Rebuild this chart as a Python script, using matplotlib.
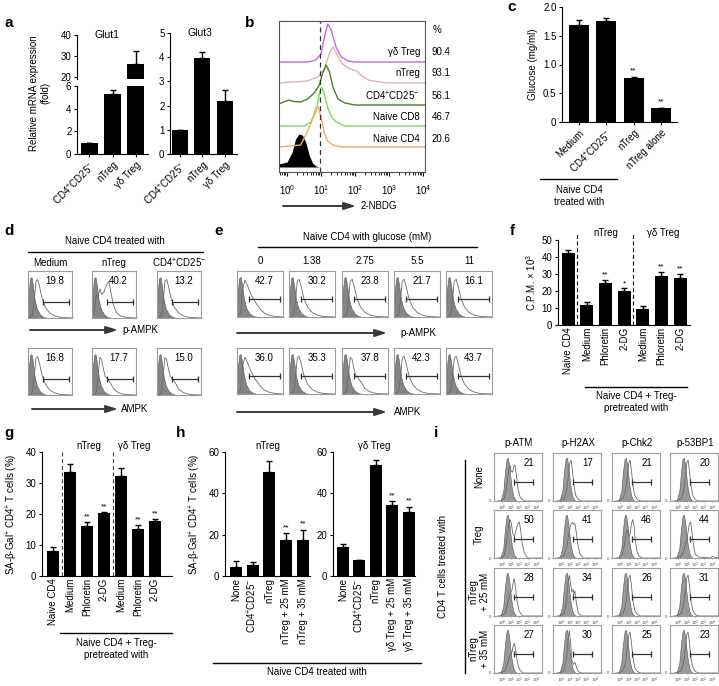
import numpy as np
import matplotlib
matplotlib.use('Agg')
import matplotlib.pyplot as plt
from matplotlib.lines import Line2D
from matplotlib.patches import FancyArrowPatch

plt.rcParams['font.family'] = ['Liberation Sans', 'DejaVu Sans']
plt.rcParams['font.size'] = 7
plt.rcParams['axes.linewidth'] = 0.8
plt.rcParams['mathtext.default'] = 'regular'

# ---------------- data ----------------
# a: Glut1 / Glut3 mRNA
glut_cats = ['CD4$^{+}$CD25$^{-}$', 'nTreg', 'γδ Treg']
glut1_mean = [1.0, 5.3, 26.0]
glut1_top = [1.0, 5.65, 32.3]
glut3_mean = [1.0, 3.95, 2.2]
glut3_top = [1.0, 4.2, 2.65]

# b: 2-NBDG histograms (log10 intensity, height in px above baseline)
nbdg_names = ['γδ Treg', 'nTreg', 'CD4$^{+}$CD25$^{-}$', 'Naive CD8', 'Naive CD4']
nbdg_pct = ['90.4', '93.1', '56.1', '46.7', '20.6']
nbdg_colors = ['#c964e2', '#dbb6b0', '#4e7d2e', '#72e05a', '#f7a862']
nbdg_x = [
    [-0.24, 0.6, 0.85, 1.0, 1.1, 1.2, 1.3, 1.45, 1.6, 1.8, 2.0, 4.06],
    [-0.24, 0.6, 0.9, 1.1, 1.25, 1.35, 1.45, 1.6, 1.8, 1.95, 2.05, 2.2, 2.4, 2.7, 3.0, 4.06],
    [-0.24, -0.1, 0.05, 0.2, 0.4, 0.6, 0.8, 0.95, 1.05, 1.15, 1.25, 1.35, 1.5, 1.7, 2.0, 4.06],
    [-0.24, 0.5, 0.7, 0.85, 0.95, 1.02, 1.1, 1.2, 1.3, 1.45, 1.7, 4.06],
    [-0.24, 0.4, 0.55, 0.65, 0.75, 0.85, 0.92, 1.0, 1.1, 1.2, 1.35, 1.6, 4.06],
]
nbdg_y = [
    [0, 0, 2, 8, 25, 38, 32, 14, 5, 1, 0, 0],
    [0, 2, 6, 14, 30, 36, 30, 20, 15, 13, 12, 7, 3, 1, 0, 0],
    [1, 3, 5, 3.5, 3, 6, 12, 20, 32, 40, 33, 18, 6, 2, 0, 0],
    [0, 0, 4, 14, 32, 39, 32, 18, 10, 4, 0, 0],
    [0, 2, 12, 19, 28, 39, 40, 30, 14, 6, 2, 0, 0],
]
iso_b_x = [-0.24, 0.0, 0.15, 0.25, 0.35, 0.45, 0.55, 0.65, 0.75, 0.85, 0.95]
iso_b_y = [3, 5, 15, 28, 33, 32, 25, 12, 4, 1, 0]

# c: glucose
c_cats = ['Medium', 'CD4$^{+}$CD25$^{-}$', 'nTreg', 'nTreg alone']
c_mean = [1.69, 1.75, 0.76, 0.25]
c_top = [1.78, 1.81, 0.78, 0.25]
c_stars = ['', '', '**', '**']

# d / e: p-AMPK and AMPK
d_cols = ['Medium', 'nTreg', 'CD4$^{+}$CD25$^{-}$']
d_pampk = ['19.8', '40.2', '13.2']
d_ampk = ['16.8', '17.7', '15.0']
d_shape_p = ['std', 'double', 'std']
d_shape_a = ['std', 'shoulder', 'shoulder']
e_cols = ['0', '1.38', '2.75', '5.5', '11']
e_pampk = ['42.7', '30.2', '23.8', '21.7', '16.1']
e_ampk = ['36.0', '35.3', '37.8', '42.3', '43.7']
e_shape_p = ['broad', 'std', 'std', 'std', 'std']
e_shape_a = ['broad', 'std', 'shoulder', 'std', 'std']

iso_de = ([0, 0.02, 0.05, 0.08, 0.11, 0.15, 0.2, 0.27, 0.35, 0.45],
          [0.05, 0.6, 0.85, 0.87, 0.7, 0.4, 0.2, 0.08, 0.02, 0])
de_shapes = {
    'std': ([0, 0.1, 0.14, 0.18, 0.22, 0.26, 0.32, 0.4, 0.5, 0.62, 0.75, 1],
            [0, 0.05, 0.35, 0.78, 0.82, 0.68, 0.42, 0.22, 0.1, 0.04, 0.01, 0]),
    'broad': ([0, 0.08, 0.12, 0.17, 0.22, 0.3, 0.4, 0.5, 0.6, 0.72, 0.85, 1],
              [0, 0.1, 0.6, 0.8, 0.7, 0.5, 0.32, 0.18, 0.08, 0.03, 0.01, 0]),
    'double': ([0, 0.06, 0.1, 0.14, 0.18, 0.22, 0.27, 0.32, 0.38, 0.42, 0.48, 0.55, 0.65, 0.8, 1],
               [0, 0.2, 0.5, 0.45, 0.62, 0.5, 0.55, 0.68, 0.78, 0.6, 0.3, 0.12, 0.04, 0.01, 0]),
    'shoulder': ([0, 0.1, 0.14, 0.18, 0.22, 0.26, 0.3, 0.36, 0.42, 0.5, 0.6, 0.75, 1],
                 [0, 0.05, 0.4, 0.8, 0.75, 0.55, 0.4, 0.33, 0.25, 0.12, 0.05, 0.01, 0]),
}

# f: proliferation
f_cats = ['Naive CD4', 'Medium', 'Phloretin', '2-DG', 'Medium', 'Phloretin', '2-DG']
f_mean = [42.3, 11.8, 24.7, 20.0, 9.4, 28.8, 27.7]
f_top = [44.2, 13.5, 26.5, 21.6, 11.3, 31.3, 30.0]
f_stars = ['', '', '**', '*', '', '**', '**']

# g: SA-beta-Gal, inhibitors
g_cats = ['Naive CD4', 'Medium', 'Phloretin', '2-DG', 'Medium', 'Phloretin', '2-DG']
g_mean = [8.0, 33.5, 16.2, 20.2, 32.3, 15.2, 17.7]
g_top = [9.2, 36.2, 17.3, 20.7, 34.7, 16.5, 18.3]
g_stars = ['', '', '**', '**', '', '**', '**']

# h: SA-beta-Gal, glucose
h1_cats = ['None', 'CD4$^{+}$CD25$^{-}$', 'nTreg', 'nTreg + 25 mM', 'nTreg + 35 mM']
h1_mean = [4.5, 5.3, 50.5, 17.3, 17.3]
h1_top = [7.3, 7.0, 55.5, 20.7, 22.3]
h2_cats = ['None', 'CD4$^{+}$CD25$^{-}$', 'nTreg', 'γδ Treg + 25 mM', 'γδ Treg + 35 mM']
h2_mean = [14.2, 7.6, 53.5, 34.2, 31.2]
h2_top = [15.7, 7.9, 56.0, 36.3, 33.5]
h_stars = ['', '', '', '**', '**']

# i: DNA damage markers
i_cols = ['p-ATM', 'p-H2AX', 'p-Chk2', 'p-53BP1']
i_rows = ['None', 'Treg', 'nTreg\n+ 25 mM', 'nTreg\n+ 35 mM']
i_vals = [['21', '17', '21', '20'],
          ['50', '41', '46', '44'],
          ['28', '34', '26', '31'],
          ['27', '30', '25', '23']]
i_shape = [['atm_none', 'single', 'single', 'single'],
           ['atm_treg', 'h2ax_treg', 'chk2_treg', 'bp_treg'],
           ['atm_25', 'h2ax_25', 'single', 'single'],
           ['atm_35', 'h2ax_35', 'single', 'single']]
iso_i = ([-1, -0.2, 0.1, 0.3, 0.5, 0.65, 0.8, 0.95, 1.1, 1.3, 1.5, 1.7],
         [0, 0.02, 0.2, 0.6, 0.88, 0.9, 0.75, 0.5, 0.28, 0.1, 0.03, 0])
i_shapes = {
    'single': ([-0.2, 0.3, 0.6, 0.85, 1.0, 1.15, 1.3, 1.5, 1.7, 2.0, 2.4, 4.7],
               [0, 0.05, 0.2, 0.55, 0.8, 0.85, 0.65, 0.3, 0.12, 0.03, 0, 0]),
    'atm_none': ([-0.2, 0.2, 0.5, 0.75, 0.9, 1.05, 1.2, 1.35, 1.5, 1.65, 1.85, 2.1, 2.4, 2.8, 4.7],
                 [0, 0.05, 0.3, 0.65, 0.75, 0.62, 0.6, 0.72, 0.75, 0.55, 0.25, 0.08, 0.02, 0, 0]),
    'atm_treg': ([-0.2, 0.2, 0.5, 0.75, 0.9, 1.05, 1.25, 1.45, 1.65, 1.85, 2.0, 2.15, 2.35, 2.6, 3.0, 4.7],
                 [0, 0.05, 0.35, 0.7, 0.8, 0.72, 0.5, 0.45, 0.6, 0.72, 0.75, 0.6, 0.3, 0.1, 0, 0]),
    'atm_25': ([-0.2, 0.3, 0.6, 0.85, 1.0, 1.15, 1.3, 1.4, 1.55, 1.75, 2.0, 2.4, 4.7],
               [0, 0.05, 0.25, 0.45, 0.5, 0.55, 0.72, 0.78, 0.6, 0.3, 0.1, 0, 0]),
    'atm_35': ([-0.2, 0.3, 0.6, 0.85, 1.0, 1.15, 1.3, 1.42, 1.55, 1.75, 2.0, 2.4, 4.7],
               [0, 0.05, 0.2, 0.35, 0.38, 0.45, 0.58, 0.62, 0.5, 0.25, 0.08, 0, 0]),
    'h2ax_treg': ([-0.2, 0.3, 0.6, 0.85, 1.0, 1.15, 1.3, 1.45, 1.6, 1.75, 1.95, 2.2, 2.6, 4.7],
                  [0, 0.05, 0.2, 0.45, 0.62, 0.7, 0.74, 0.7, 0.72, 0.55, 0.28, 0.08, 0, 0]),
    'h2ax_25': ([-0.2, 0.3, 0.6, 0.8, 0.95, 1.1, 1.25, 1.4, 1.5, 1.6, 1.75, 2.0, 2.4, 4.7],
                [0, 0.05, 0.3, 0.7, 0.85, 0.65, 0.5, 0.55, 0.45, 0.52, 0.3, 0.06, 0, 0]),
    'h2ax_35': ([-0.2, 0.3, 0.6, 0.8, 0.95, 1.1, 1.25, 1.45, 1.6, 1.75, 2.0, 2.4, 4.7],
                [0, 0.05, 0.3, 0.72, 0.88, 0.62, 0.25, 0.18, 0.22, 0.14, 0.03, 0, 0]),
    'chk2_treg': ([-0.2, 0.2, 0.5, 0.7, 0.85, 1.0, 1.15, 1.3, 1.45, 1.6, 1.75, 1.95, 2.2, 2.6, 4.7],
                  [0, 0.05, 0.3, 0.55, 0.58, 0.45, 0.5, 0.7, 0.8, 0.7, 0.4, 0.15, 0.04, 0, 0]),
    'bp_treg': ([-0.2, 0.3, 0.6, 0.85, 1.0, 1.15, 1.3, 1.45, 1.6, 1.8, 2.0, 2.4, 3.8, 4.0, 4.7],
                [0, 0.03, 0.12, 0.3, 0.38, 0.55, 0.72, 0.75, 0.55, 0.25, 0.08, 0.02, 0, 0.03, 0]),
}

# ---------------- figure ----------------
W, H = 719, 686
fig = plt.figure(figsize=(W / 100, H / 100), dpi=100)


def axpx(l, t, r, b):
    return fig.add_axes([l / W, 1 - b / H, (r - l) / W, (b - t) / H])


def txt(x, y, s, **kw):
    kw.setdefault('ha', 'center')
    kw.setdefault('va', 'center')
    fig.text(x / W, 1 - y / H, s, **kw)


def hline(x0, x1, y, lw=1.0, color='black'):
    fig.add_artist(Line2D([x0 / W, x1 / W], [1 - y / H, 1 - y / H], lw=lw, color=color,
                          transform=fig.transFigure))


def vline(x, y0, y1, lw=1.0, color='black'):
    fig.add_artist(Line2D([x / W, x / W], [1 - y0 / H, 1 - y1 / H], lw=lw, color=color,
                          transform=fig.transFigure))


def arrow(x0, x1, y, label, lx):
    fig.add_artist(FancyArrowPatch((x0 / W, 1 - y / H), (x1 / W, 1 - y / H),
                                   transform=fig.transFigure, mutation_scale=10,
                                   arrowstyle='-|>,head_length=0.7,head_width=0.22',
                                   lw=1.4, color='#3a3a3a', shrinkA=0, shrinkB=0))
    txt(lx, y, label, ha='left')


def style(ax, xlen=2.5):
    for s in ['top', 'right']:
        ax.spines[s].set_visible(False)
    ax.tick_params(direction='out', length=2.5, width=0.8, labelsize=7, pad=1.5)
    ax.tick_params(axis='x', length=xlen)


def draw_bars(ax, vals, tops, width, stars=None, pad=0.0, fs=6):
    x = np.arange(len(vals))
    vals = np.array(vals)
    up = np.array(tops) - vals
    ax.bar(x, vals, width, color='black', zorder=2)
    ax.errorbar(x, vals, yerr=[np.zeros_like(up), up], fmt='none', ecolor='black',
                elinewidth=1.0, capsize=2.5, capthick=1.0, zorder=3)
    if stars:
        for xi, t, s in zip(x, tops, stars):
            if s:
                ax.text(xi, t + pad, s, ha='center', va='bottom', fontsize=fs)


def panel(x, y, s):
    txt(x, y, s, fontsize=11, fontweight='bold')


# ---------------- a ----------------
panel(9, 23, 'a')
a_top = axpx(77, 35, 148, 79)
a_bot = axpx(77, 86, 148, 154)
for ax in (a_top, a_bot):
    style(ax)
    draw_bars(ax, glut1_mean, glut1_top, 0.72)
    ax.set_xlim(-0.54, 2.54)
a_top.set_ylim(19, 40)
a_top.set_yticks([20, 30, 40])
a_top.spines['bottom'].set_visible(False)
a_top.set_xticks([])
a_bot.set_ylim(0, 6)
a_bot.set_yticks([0, 2, 4, 6])
a_bot.set_xticks(range(3))
a_bot.set_xticklabels(glut_cats, rotation=45, ha='right', rotation_mode='anchor')
txt(107, 35, 'Glut1', fontsize=7.5)

a3 = axpx(170, 33, 237, 154)
style(a3)
draw_bars(a3, glut3_mean, glut3_top, 0.71)
a3.set_xlim(-0.44, 2.53)
a3.set_ylim(0, 5)
a3.set_xticks(range(3))
a3.set_xticklabels(glut_cats, rotation=45, ha='right', rotation_mode='anchor')
txt(200, 33, 'Glut3', fontsize=7.5)
txt(40, 93, 'Relative mRNA expression\n(fold)', rotation=90, linespacing=1.2)

# ---------------- b ----------------
panel(250, 23, 'b')
ab = axpx(279, 21, 425, 172)
base_px = [110, 89, 67, 46, 25]
for xs, ys, col, b0 in zip(nbdg_x, nbdg_y, nbdg_colors, base_px):
    ab.plot(10 ** np.array(xs), np.array(ys) + b0, color=col, lw=1.0)
ab.fill_between(10 ** np.array(iso_b_x), 5, np.array(iso_b_y) + 5, color='black', lw=0)
ab.set_xscale('log')
ab.set_xlim(0.58, 1.15e4)
ab.set_ylim(0, 151)
ab.axvline(9.4, color='#333', lw=0.9, ls=(0, (4, 3)))
ab.set_yticks([])
ab.set_xticks([1, 10, 100, 1000, 10000])
ab.set_xticklabels(['10$^{0}$', '10$^{1}$', '10$^{2}$', '10$^{3}$', '10$^{4}$'])
ab.tick_params(axis='x', which='major', direction='out', length=3, labelsize=7, pad=5)
ab.tick_params(axis='x', which='minor', direction='out', length=1.8)
for s in ab.spines.values():
    s.set_color('#555')
for name, pct, y in zip(nbdg_names, nbdg_pct, [52, 73, 96, 117, 139]):
    txt(420, y, name, ha='right')
    txt(432, y, pct, ha='left')
txt(433, 30, '%', ha='left')
arrow(283, 356, 206, '2-NBDG', 361)

# ---------------- c ----------------
panel(512, 7, 'c')
ac = axpx(562, 7, 677, 122)
style(ac)
draw_bars(ac, c_mean, c_top, 0.73, c_stars, pad=0.04)
ac.set_xlim(-0.62, 3.59)
ac.set_ylim(0, 2.0)
ac.set_yticks([0, 0.5, 1.0, 1.5, 2.0])
ac.set_yticklabels(['0', '0.5', '1.0', '1.5', '2.0'])
ac.set_xticks(range(4))
ac.set_xticklabels(c_cats, rotation=45, ha='right', rotation_mode='anchor')
ac.set_ylabel('Glucose (mg/ml)', labelpad=4)
hline(540, 617, 179)
txt(579, 196, 'Naive CD4\ntreated with', linespacing=1.3)


# ---------------- d / e ----------------
def flow_box(l, t, w, h, iso, curve, value, gate, xlim, num_x, fs=7, iso_col='#858585'):
    ax = axpx(l, t, l + w, t + h)
    ax.fill_between(iso[0], 0, iso[1], facecolor=iso_col, edgecolor='#555', lw=0.4)
    ax.plot(curve[0], curve[1], color='#6a6a6a', lw=0.6)
    ax.plot(gate[:2], [gate[2]] * 2, color='#333', lw=0.9, marker='|', ms=4, mew=0.9)
    ax.text(num_x, 0.79, value, ha='center', va='center', fontsize=fs)
    ax.set_xlim(xlim)
    ax.set_ylim(0, 1)
    for s in ax.spines.values():
        s.set_color('#9c9c9c')
        s.set_linewidth(0.8)
    ax.set_xticks([])
    ax.set_yticks([])
    return ax


panel(9, 231, 'd')
txt(115, 241, 'Naive CD4 treated with')
hline(28, 203, 252)
d_left = [28, 92, 157]
for j, l in enumerate(d_left):
    txt(l + 22, 263, d_cols[j])
    flow_box(l, 271, 44, 47, iso_de, de_shapes[d_shape_p[j]], d_pampk[j],
             (0.33, 0.94, 0.33), (0, 1), 0.6)
    flow_box(l, 348, 44, 47, iso_de, de_shapes[d_shape_a[j]], d_ampk[j],
             (0.33, 0.94, 0.33), (0, 1), 0.6)
arrow(30, 118, 330, 'p-AMPK', 122)
arrow(32, 118, 409, 'AMPK', 121)

panel(219, 231, 'e')
txt(367, 237, 'Naive CD4 with glucose (mM)')
hline(258, 477, 247)
e_left = [237, 289, 342, 394, 446]
for j, l in enumerate(e_left):
    txt(l + 23, 261, e_cols[j])
    flow_box(l, 271, 46, 46, iso_de, de_shapes[e_shape_p[j]], e_pampk[j],
             (0.25, 0.93, 0.4), (0, 1), 0.6)
    flow_box(l, 348, 46, 46, iso_de, de_shapes[e_shape_a[j]], e_ampk[j],
             (0.25, 0.93, 0.4), (0, 1), 0.6)
arrow(237, 387, 333, 'p-AMPK', 400)
arrow(237, 387, 412, 'AMPK', 394)

# ---------------- f ----------------
panel(512, 231, 'f')
af = axpx(558, 240, 690, 325)
style(af, xlen=0)
draw_bars(af, f_mean, f_top, 0.7, f_stars, pad=0.8)
af.set_xlim(-0.54, 6.53)
af.set_ylim(0, 50)
af.set_yticks([0, 10, 20, 30, 40, 50])
af.set_xticks(range(7))
af.set_xticklabels(f_cats, rotation=90)
af.set_ylabel('C.P.M. × 10$^{3}$', labelpad=3)
for xv in (0.5, 3.5):
    af.axvline(xv, ymin=0, ymax=1.1, color='black', lw=0.8, ls=(0, (3.5, 2.5)), clip_on=False)
af.text(2, 54, 'nTreg', ha='center', va='center')
af.text(5.1, 54, 'γδ Treg', ha='center', va='center')
hline(585, 687, 387)
txt(636, 402, 'Naive CD4 + Treg-\npretreated with', linespacing=1.3)

# ---------------- g ----------------
panel(9, 433, 'g')
ag = axpx(42, 452, 172, 576)
style(ag, xlen=0)
draw_bars(ag, g_mean, g_top, 0.75, g_stars, pad=0.6)
ag.set_xlim(-0.65, 7.0)
ag.set_ylim(0, 40)
ag.set_yticks([0, 10, 20, 30, 40])
ag.set_xticks(range(7))
ag.set_xticklabels(g_cats, rotation=90)
ag.set_ylabel('SA-β-Gal$^{+}$ CD4$^{+}$ T cells (%)', labelpad=4)
for xv in (0.5, 3.5):
    ag.axvline(xv, color='#444', lw=0.8, ls=(0, (3.5, 2.5)))
ag.text(2.1, 42, 'nTreg', ha='center', va='center')
ag.text(4.8, 42, 'γδ Treg', ha='center', va='center')
hline(60, 172, 633)
txt(116, 649, 'Naive CD4 + Treg-\npretreated with', linespacing=1.3)

# ---------------- h ----------------
panel(181, 433, 'h')
ah1 = axpx(225, 452, 310, 576)
ah2 = axpx(333, 452, 415, 576)
for ax, m, t, cats, lim, title in ((ah1, h1_mean, h1_top, h1_cats, (-0.655, 4.42), 'nTreg'),
                                   (ah2, h2_mean, h2_top, h2_cats, (-0.6, 4.37), 'γδ Treg')):
    style(ax, xlen=0)
    draw_bars(ax, m, t, 0.72, h_stars, pad=1.0)
    ax.set_xlim(lim)
    ax.set_ylim(0, 60)
    ax.set_yticks([0, 20, 40, 60])
    ax.set_xticks(range(5))
    ax.set_xticklabels(cats, rotation=90)
    ax.set_title(title, fontsize=7, pad=2)
ah1.set_ylabel('SA-β-Gal$^{+}$ CD4$^{+}$ T cells (%)', labelpad=4)
hline(213, 421, 663)
txt(317, 672, 'Naive CD4 treated with')

# ---------------- i ----------------
panel(436, 433, 'i')
i_left = [494, 553, 612, 670]
i_topp = [453, 510, 568, 625]
for j, l in enumerate(i_left):
    txt(l + 25, 443, i_cols[j])
for r, t in enumerate(i_topp):
    txt(479, t + 24, i_rows[r], rotation=90, linespacing=1.2)
    for j, l in enumerate(i_left):
        ax = flow_box(l, t, 48, 48, iso_i, i_shapes[i_shape[r][j]], i_vals[r][j],
                      (1.37, 3.66, 0.4), (-1, 4.7), 3.1, fs=7, iso_col='#999999')
        ax.set_xticks([0, 1, 2, 3, 4])
        ax.set_xticklabels(['10$^{0}$', '10$^{1}$', '10$^{2}$', '10$^{3}$', '10$^{4}$'])
        ax.set_yticks([0])
        ax.set_yticklabels(['0'])
        ax.tick_params(length=1, width=0.4, labelsize=3.2, pad=1, colors='#555')
vline(465, 460, 673)
txt(443, 566, 'CD4 T cells treated with', rotation=90)

fig.savefig('out.png', dpi=100)
